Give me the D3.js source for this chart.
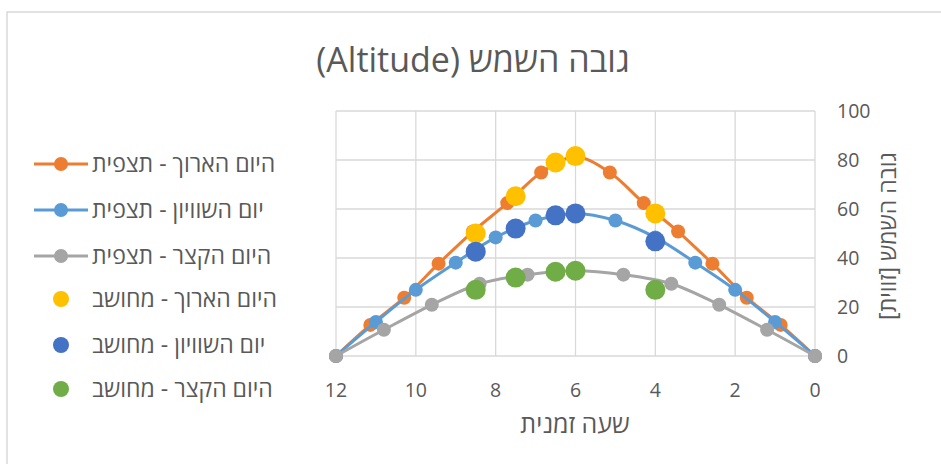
<!DOCTYPE html>
<html lang="he">
<head>
  <meta charset="UTF-8">
  <title>גובה השמש</title>
  <script src="https://d3js.org/d3.v7.min.js"></script>
  <style>
    body { margin: 0; background: #fff; font-family: 'Open Sans', 'DejaVu Sans', sans-serif; }
    .grid line { stroke: #d9d9d9; stroke-width: 1.3; }
    .tick-label { fill: #595959; font-size: 19.5px; }
    .legend-text { fill: #595959; font-size: 23px; }
  </style>
</head>
<body>
  <svg width="941" height="464"></svg>
  <script>
    // observed series (lines + markers)
    const longX   = [0, 0.86, 1.71, 2.57, 3.43, 4.29, 5.14, 6, 6.86, 7.71, 8.57, 9.43, 10.29, 11.14, 12];
    const longY   = [0, 12.7, 23.8, 37.7, 50.8, 62.4, 74.9, 81.3, 74.9, 62.4, 50.8, 37.7, 23.8, 12.7, 0];
    const equiX   = [0, 1, 2, 3, 4, 5, 6, 7, 8, 9, 10, 11, 12];
    const equiY   = [0, 13.9, 27.0, 38.1, 48.4, 55.3, 58.2, 55.3, 48.4, 38.1, 27.0, 13.9, 0];
    const shortX  = [0, 1.2, 2.4, 3.6, 4.8, 6, 7.2, 8.4, 9.6, 10.8, 12];
    const shortY  = [0, 10.7, 20.9, 29.5, 33.2, 34.8, 33.2, 29.5, 20.9, 10.7, 0];

    // computed series (markers only)
    const calcX      = [4, 6, 6.5, 7.5, 8.5];
    const calcLongY  = [58.2, 81.6, 79.0, 65.2, 50.0];
    const calcEquiY  = [46.8, 58.2, 57.4, 52.0, 42.6];
    const calcShortY = [27.0, 34.8, 34.4, 32.0, 27.0];

    const xTicks = [0, 2, 4, 6, 8, 10, 12];
    const yTicks = [0, 20, 40, 60, 80, 100];

    const lineSeries = [
      { name: "היום הארוך - תצפית", color: "#ED7D31", xs: longX, ys: longY },
      { name: "יום השוויון - תצפית", color: "#5B9BD5", xs: equiX, ys: equiY },
      { name: "היום הקצר - תצפית", color: "#A5A5A5", xs: shortX, ys: shortY }
    ];
    const dotSeries = [
      { name: "היום הארוך - מחושב", color: "#FFC000", ys: calcLongY },
      { name: "יום השוויון - מחושב", color: "#4472C4", ys: calcEquiY },
      { name: "היום הקצר - מחושב", color: "#70AD47", ys: calcShortY }
    ];

    const svg = d3.select("svg");

    // chart frame (cropped on right/bottom)
    svg.append("rect")
      .attr("x", 7).attr("y", 12)
      .attr("width", 960).attr("height", 480)
      .attr("fill", "#fff")
      .attr("stroke", "#d9d9d9").attr("stroke-width", 1.5);

    const x = d3.scaleLinear().domain([12, 0]).range([336, 815]);
    const y = d3.scaleLinear().domain([0, 100]).range([356, 111]);

    // gridlines
    const grid = svg.append("g").attr("class", "grid");
    grid.selectAll(".h").data(yTicks).join("line")
      .attr("x1", x(12)).attr("x2", x(0))
      .attr("y1", d => y(d)).attr("y2", d => y(d));
    grid.selectAll(".v").data(xTicks).join("line")
      .attr("y1", y(0)).attr("y2", y(100))
      .attr("x1", d => x(d)).attr("x2", d => x(d));

    // tick labels
    svg.append("g").selectAll("text").data(xTicks).join("text")
      .attr("class", "tick-label")
      .attr("x", d => x(d)).attr("y", 397)
      .attr("text-anchor", "middle")
      .text(d => d);
    svg.append("g").selectAll("text").data(yTicks).join("text")
      .attr("class", "tick-label")
      .attr("x", 837).attr("y", d => y(d) + 7)
      .attr("text-anchor", "start")
      .text(d => d);

    // axis titles
    svg.append("text")
      .attr("x", 575).attr("y", 433)
      .attr("text-anchor", "middle")
      .attr("direction", "rtl")
      .attr("fill", "#595959").attr("font-size", 25)
      .text("שעה זמנית");
    svg.append("text")
      .attr("transform", "translate(896,236) rotate(-90)")
      .attr("text-anchor", "middle")
      .attr("direction", "rtl")
      .attr("fill", "#595959").attr("font-size", 23)
      .text("גובה השמש [זווית]");

    // title
    svg.append("text")
      .attr("x", 473).attr("y", 72)
      .attr("text-anchor", "middle")
      .attr("direction", "rtl")
      .attr("fill", "#595959").attr("font-size", 34)
      .text("גובה השמש (Altitude)");

    const line = d3.line()
      .x(d => x(d[0]))
      .y(d => y(d[1]))
      .curve(d3.curveCatmullRom.alpha(0.5));

    lineSeries.forEach(s => {
      const pts = s.xs.map((v, i) => [v, s.ys[i]]);
      svg.append("path")
        .datum(pts)
        .attr("d", line)
        .attr("fill", "none")
        .attr("stroke", s.color)
        .attr("stroke-width", 3)
        .attr("stroke-linecap", "round");
      svg.append("g").selectAll("circle").data(pts).join("circle")
        .attr("cx", d => x(d[0])).attr("cy", d => y(d[1]))
        .attr("r", 7)
        .attr("fill", s.color);
    });

    dotSeries.forEach(s => {
      svg.append("g").selectAll("circle").data(calcX.map((v, i) => [v, s.ys[i]])).join("circle")
        .attr("cx", d => x(d[0])).attr("cy", d => y(d[1]))
        .attr("r", 10)
        .attr("fill", s.color);
    });

    // legend
    const legendRows = [164, 210, 256, 299, 345, 389];
    const legend = svg.append("g");
    lineSeries.forEach((s, i) => {
      const g = legend.append("g").attr("transform", `translate(0,${legendRows[i]})`);
      g.append("line").attr("x1", 34).attr("x2", 88).attr("y1", 0).attr("y2", 0)
        .attr("stroke", s.color).attr("stroke-width", 3);
      g.append("circle").attr("cx", 61).attr("cy", 0).attr("r", 7).attr("fill", s.color);
      g.append("text").attr("class", "legend-text")
        .attr("x", 92).attr("y", 8).attr("text-anchor", "start")
        .text(s.name);
    });
    dotSeries.forEach((s, i) => {
      const g = legend.append("g").attr("transform", `translate(0,${legendRows[i + 3]})`);
      g.append("circle").attr("cx", 61).attr("cy", 0).attr("r", 8).attr("fill", s.color);
      g.append("text").attr("class", "legend-text")
        .attr("x", 92).attr("y", 8).attr("text-anchor", "start")
        .text(s.name);
    });
  </script>
</body>
</html>
